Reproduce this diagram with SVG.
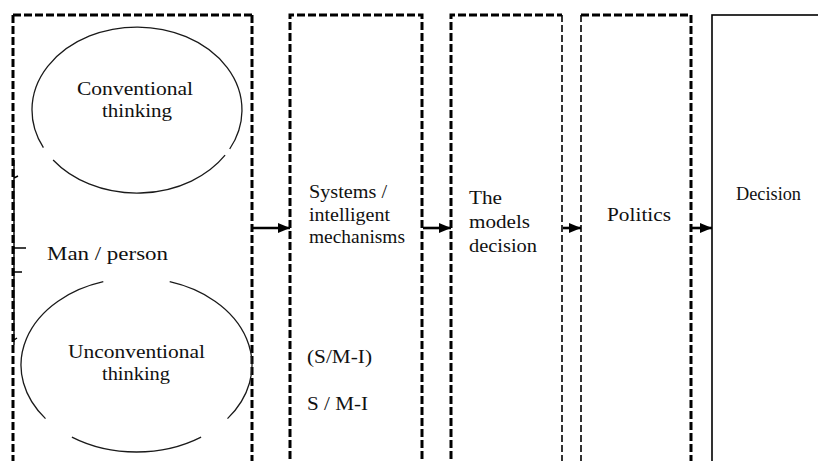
<svg xmlns="http://www.w3.org/2000/svg" width="818" height="461" viewBox="0 0 818 461">
<style>
.thick{fill:none;stroke:#000;stroke-width:3;stroke-dasharray:8 3}
.thin{fill:none;stroke:#000;stroke-width:1.6;stroke-dasharray:7 3}
.solid{fill:none;stroke:#000;stroke-width:1.6}
.ell{fill:none;stroke:#1a1a1a;stroke-width:1.3}
.t{font-family:"Liberation Serif","Times New Roman",serif;font-size:19px;fill:#111}
.c{text-anchor:middle}
.conn{stroke:#000;stroke-width:2.6;fill:none}
</style>
<defs>
<marker id="ah" markerUnits="userSpaceOnUse" markerWidth="12" markerHeight="10" refX="12" refY="5" orient="auto">
<path d="M0,0 L12,5 L0,10 z" fill="#000"/>
</marker>
</defs>
<rect width="818" height="461" fill="#fff"/>

<g id="man-person">
<line class="thick" x1="13" y1="15" x2="252" y2="15"/>
<line class="thick" x1="13" y1="15" x2="13" y2="470"/>
<line class="thick" x1="252" y1="15" x2="252" y2="470"/>
<path d="M14,160 L14,345 M14,178 L18,176 M14,248 L26,248 M14,272 L22,272 M14,340 L17,338" stroke="#000" stroke-width="1.4" fill="none"/>
<text class="t" x="47" y="260" font-size="22" textLength="121" lengthAdjust="spacingAndGlyphs">Man / person</text>
</g>

<g id="conventional">
<path class="ell" d="M225.1,155.2 A105,83 0 0 1 53.1,160.0 M43.4,147.7 A105,83 0 1 1 229.7,149.0"/>
<text class="t c" x="135" y="95" textLength="116" lengthAdjust="spacingAndGlyphs">Conventional</text>
<text class="t c" x="137" y="117" textLength="70" lengthAdjust="spacingAndGlyphs">thinking</text>
</g>

<g id="unconventional">
<path class="ell" d="M169.7,281.7 A115.5,87 0 0 1 227.5,418.6 M201.1,437.1 A115.5,87 0 0 1 71.9,437.1 M45.5,418.6 A115.5,87 0 0 1 103.3,281.7"/>
<text class="t c" x="136.5" y="358" textLength="137" lengthAdjust="spacingAndGlyphs">Unconventional</text>
<text class="t c" x="136" y="380" textLength="68" lengthAdjust="spacingAndGlyphs">thinking</text>
</g>

<g id="systems">
<path class="thick" d="M290,470 L290,15 L422,15 L422,470"/>
<text class="t" x="309" y="198" textLength="78" lengthAdjust="spacingAndGlyphs">Systems /</text>
<text class="t" x="309" y="221" textLength="81" lengthAdjust="spacingAndGlyphs">intelligent</text>
<text class="t" x="309" y="243" textLength="96" lengthAdjust="spacingAndGlyphs">mechanisms</text>
<text class="t" x="307" y="363" textLength="65" lengthAdjust="spacingAndGlyphs">(S/M-I)</text>
<text class="t" x="307" y="410" textLength="61" lengthAdjust="spacingAndGlyphs">S / M-I</text>
</g>

<g id="models">
<path class="thick" d="M451,470 L451,15 L562,15"/>
<line class="thin" x1="562" y1="15" x2="562" y2="470"/>
<text class="t" x="469" y="204" textLength="33" lengthAdjust="spacingAndGlyphs">The</text>
<text class="t" x="469" y="228" textLength="61" lengthAdjust="spacingAndGlyphs">models</text>
<text class="t" x="469" y="252" textLength="68" lengthAdjust="spacingAndGlyphs">decision</text>
</g>

<g id="politics">
<line class="thick" x1="581" y1="15" x2="691" y2="15"/>
<line class="thin" x1="581" y1="15" x2="581" y2="470"/>
<line class="thick" x1="691" y1="15" x2="691" y2="470"/>
<text class="t" x="607" y="221" textLength="64" lengthAdjust="spacingAndGlyphs">Politics</text>
</g>

<g id="decision">
<rect class="solid" x="712" y="15" width="200" height="500"/>
<text class="t" x="736" y="200" textLength="65" lengthAdjust="spacingAndGlyphs">Decision</text>
</g>

<g id="connectors">
<line class="conn" x1="253" y1="228" x2="290" y2="228" marker-end="url(#ah)"/>
<line class="conn" x1="423" y1="228" x2="451" y2="228" marker-end="url(#ah)"/>
<line class="conn" x1="563" y1="228" x2="581" y2="228" marker-end="url(#ah)"/>
<line class="conn" x1="692" y1="228" x2="712" y2="228" marker-end="url(#ah)"/>
</g>
</svg>
